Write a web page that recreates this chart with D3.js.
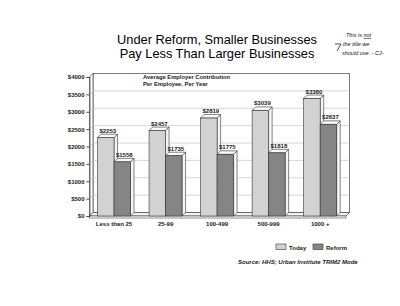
<!DOCTYPE html>
<html>
<head>
<meta charset="utf-8">
<script src="https://cdn.jsdelivr.net/npm/d3@7"></script>
<style>
  body { margin: 0; background: #fff; }
  text { font-family: "Liberation Sans", Arial, sans-serif; }
</style>
</head>
<body>
<div id="chart"></div>
<script>
// data
const categories = ['Less than 25', '25-99', '100-499', '500-999', '1000 +'];
const series = ['Today', 'Reform'];
const today = [2253, 2457, 2819, 3039, 3380];
const reform = [1558, 1735, 1775, 1818, 2637];
const yTicks = [0, 500, 1000, 1500, 2000, 2500, 3000, 3500, 4000];

const W = 400, H = 306;
const depth = 3.5;
const fills = { Today: '#d2d2d2', Reform: '#858585' };

const svg = d3.select('#chart').append('svg')
  .attr('width', W).attr('height', H);

const y = d3.scaleLinear().domain([0, 4000]).range([216, 77]);
const x = d3.scaleBand().domain(categories)
  .range([89.8, 344.4]).paddingInner(0.36).paddingOuter(0.15);
const xs = d3.scaleBand().domain(series).range([0, x.bandwidth()]);

// title
svg.append('text').attr('x', 217).attr('y', 44).attr('text-anchor', 'middle')
  .style('font-size', '12.8px').text('Under Reform, Smaller Businesses');
svg.append('text').attr('x', 217).attr('y', 58).attr('text-anchor', 'middle')
  .style('font-size', '12.8px').text('Pay Less Than Larger Businesses');

// handwritten note
const note = svg.append('g').style('font-family', '"DejaVu Sans", sans-serif')
  .style('font-style', 'italic').style('font-size', '5.5px').attr('fill', '#111');
note.append('path').attr('d', 'M335,44 L341,44 L337,51').attr('fill', 'none')
  .attr('stroke', '#222').attr('stroke-width', 0.8);
const l1 = note.append('text').attr('x', 346).attr('y', 37).text('This is ');
l1.append('tspan').style('text-decoration', 'underline').text('not');
note.append('text').attr('x', 343).attr('y', 46).text('the title we');
note.append('text').attr('x', 342).attr('y', 55).text('should use. - CJ-');

// walls
const x0 = 89.5, x1 = 346;
const plot = svg.append('g');
plot.append('rect').attr('x', x0 + depth).attr('y', y(4000) - depth)
  .attr('width', x1 - x0).attr('height', y(0) - y(4000))
  .attr('fill', '#fff').attr('stroke', '#444').attr('stroke-width', 0.7);
plot.append('path')
  .attr('d', `M${x0},${y(4000)} L${x0 + depth},${y(4000) - depth} L${x0 + depth},${y(0) - depth} L${x0},${y(0)} Z`)
  .attr('fill', '#fff').attr('stroke', '#444').attr('stroke-width', 0.7);

// gridlines on back wall
plot.selectAll('.grid').data(yTicks.slice(1, -1)).enter().append('path')
  .attr('class', 'grid')
  .attr('d', d => `M${x0},${y(d)} L${x0 + depth},${y(d) - depth} L${x1 + depth},${y(d) - depth}`)
  .attr('fill', 'none').attr('stroke', '#bbb').attr('stroke-width', 0.6);

// floor slab
plot.append('path')
  .attr('d', `M${x0},${y(0)} L${x0 + depth},${y(0) - depth} L${x1 + depth},${y(0) - depth} L${x1},${y(0)} Z`)
  .attr('fill', '#f2f2f2').attr('stroke', '#444').attr('stroke-width', 0.7);
plot.append('rect').attr('x', x0).attr('y', y(0)).attr('width', x1 - x0).attr('height', 2)
  .attr('fill', '#fff').attr('stroke', '#444').attr('stroke-width', 0.6);

// y axis
const yAxis = svg.append('g').attr('transform', `translate(${x0},0)`)
  .call(d3.axisLeft(y).tickValues(yTicks).tickSize(3).tickFormat(d => '$' + d));
yAxis.select('.domain').attr('stroke', '#444').attr('stroke-width', 0.7);
yAxis.selectAll('.tick line').attr('stroke', '#444');
yAxis.selectAll('text').style('font-size', '6px').style('font-weight', 'bold')
  .attr('fill', '#222').attr('x', -5);

// bars
const rows = categories.map((c, i) => ({ cat: c, vals: [
  { s: 'Today', v: today[i] }, { s: 'Reform', v: reform[i] } ] }));
const groups = svg.append('g').selectAll('g').data(rows).enter().append('g')
  .attr('transform', d => `translate(${x(d.cat)},0)`);
const bars = groups.selectAll('g').data(d => d.vals).enter().append('g');
bars.append('path') // side
  .attr('d', d => {
    const bx = xs(d.s) + xs.bandwidth(), t = y(d.v), b = y(0);
    return `M${bx},${t} L${bx + depth},${t - depth} L${bx + depth},${b - depth} L${bx},${b} Z`;
  })
  .attr('fill', '#f6f6f6').attr('stroke', '#333').attr('stroke-width', 0.6);
bars.append('path') // top
  .attr('d', d => {
    const bx = xs(d.s), w = xs.bandwidth(), t = y(d.v);
    return `M${bx},${t} L${bx + depth},${t - depth} L${bx + w + depth},${t - depth} L${bx + w},${t} Z`;
  })
  .attr('fill', '#fafafa').attr('stroke', '#333').attr('stroke-width', 0.6);
bars.append('rect') // front
  .attr('x', d => xs(d.s)).attr('y', d => y(d.v))
  .attr('width', xs.bandwidth()).attr('height', d => y(0) - y(d.v))
  .attr('fill', d => fills[d.s]).attr('stroke', '#333').attr('stroke-width', 0.6);
bars.append('text')
  .attr('x', d => xs(d.s) + xs.bandwidth() / 2 + 2)
  .attr('y', d => y(d.v) - depth - 1.5)
  .attr('text-anchor', 'middle').style('font-size', '6px').style('font-weight', 'bold')
  .attr('fill', '#222').text(d => '$' + d.v);

// category labels
svg.append('g').selectAll('text').data(categories).enter().append('text')
  .attr('x', d => x(d) + x.bandwidth() / 2).attr('y', 226)
  .attr('text-anchor', 'middle').style('font-size', '6px').style('font-weight', 'bold')
  .attr('fill', '#222').text(d => d);

// chart caption
svg.append('text').attr('x', 143).attr('y', 79).style('font-size', '5.8px')
  .style('font-weight', 'bold').attr('fill', '#222').text('Average Employer Contribution');
svg.append('text').attr('x', 143).attr('y', 86).style('font-size', '5.8px')
  .style('font-weight', 'bold').attr('fill', '#222').text('Per Employee, Per Year');

// legend
const legX = d3.scalePoint().domain(series).range([276, 313]);
const leg = svg.append('g').selectAll('g').data(series).enter().append('g')
  .attr('transform', d => `translate(${legX(d)},244)`);
leg.append('rect').attr('width', 10).attr('height', 5.5)
  .attr('fill', d => fills[d]).attr('stroke', '#333').attr('stroke-width', 0.6);
leg.append('text').attr('x', 13).attr('y', 5.5).style('font-size', '6px')
  .style('font-weight', 'bold').attr('fill', '#222').text(d => d);

// source
svg.append('text').attr('x', 238).attr('y', 264).style('font-size', '6px')
  .style('font-weight', 'bold').style('font-style', 'italic').attr('fill', '#222')
  .text('Source: HHS; Urban Institute TRIM2 Mode');
</script>
</body>
</html>
